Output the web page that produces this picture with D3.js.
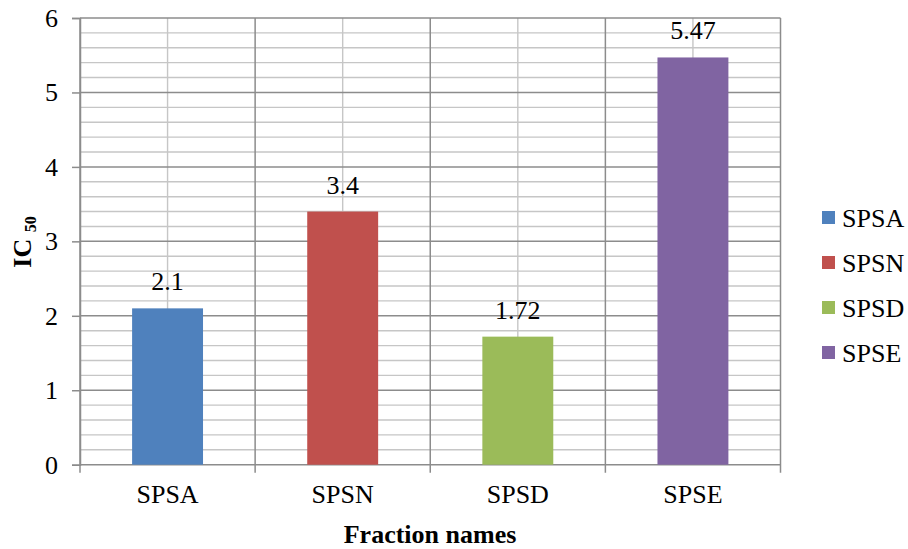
<!DOCTYPE html>
<html>
<head>
<meta charset="utf-8">
<script src="https://cdn.jsdelivr.net/npm/d3@7/dist/d3.min.js"></script>
<style>
  html, body { margin: 0; padding: 0; background: #fff; }
</style>
</head>
<body>
<svg id="chart" width="908" height="549"></svg>
<script>
// IC50 per fraction
const categories = ["SPSA", "SPSN", "SPSD", "SPSE"];
const values = [2.1, 3.4, 1.72, 5.47];
const valueLabels = ["2.1", "3.4", "1.72", "5.47"];
const colors = ["#4F81BD", "#C0504D", "#9BBB59", "#8064A2"];
const yTicks = [0, 1, 2, 3, 4, 5, 6];
const yMinorStep = 0.2;

const svg = d3.select("#chart");
const plot = { left: 80, right: 780.5, top: 18, bottom: 464.7 };

const x = d3.scaleBand().domain(categories).range([plot.left, plot.right]).padding(0);
const y = d3.scaleLinear().domain([0, 6]).range([plot.bottom, plot.top]);

const majorGrid = "#8c8c8c";
const minorGrid = "#c6c6c6";
const serif = "Liberation Serif";
const fontSize = "26px";

function serifText(sel, size, weight) {
  sel.style("font-family", serif)
     .style("font-size", size)
     .style("font-weight", weight || "normal")
     .style("fill", "#000");
}

// minor horizontal gridlines
const minorVals = d3.range(0, 6 + 1e-9, yMinorStep).filter(v => Math.abs(v - Math.round(v)) > 1e-6);
svg.append("g").selectAll("line").data(minorVals).join("line")
  .attr("x1", plot.left).attr("x2", plot.right)
  .attr("y1", d => y(d)).attr("y2", d => y(d))
  .attr("stroke", minorGrid).attr("stroke-width", 1.4);

// light vertical lines through category centres
svg.append("g").selectAll("line").data(categories).join("line")
  .attr("x1", d => x(d) + x.bandwidth() / 2).attr("x2", d => x(d) + x.bandwidth() / 2)
  .attr("y1", plot.top).attr("y2", plot.bottom)
  .attr("stroke", minorGrid).attr("stroke-width", 1.4);

// major horizontal gridlines
svg.append("g").selectAll("line").data(yTicks).join("line")
  .attr("x1", plot.left).attr("x2", plot.right)
  .attr("y1", d => y(d)).attr("y2", d => y(d))
  .attr("stroke", majorGrid).attr("stroke-width", 1.5);

// category boundary lines (extend below axis as tick marks)
const bounds = categories.map(c => x(c)).concat([x(categories[categories.length - 1]) + x.bandwidth()]);
svg.append("g").selectAll("line").data(bounds).join("line")
  .attr("x1", d => d).attr("x2", d => d)
  .attr("y1", plot.top).attr("y2", plot.bottom + 8)
  .attr("stroke", majorGrid).attr("stroke-width", 1.5);

// bars
const barW = x.bandwidth() * 0.405;
svg.append("g").selectAll("rect").data(categories).join("rect")
  .attr("x", (d) => x(d) + x.bandwidth() / 2 - barW / 2)
  .attr("width", barW)
  .attr("y", (d, i) => y(values[i]))
  .attr("height", (d, i) => y(0) - y(values[i]))
  .attr("fill", (d, i) => colors[i]);

// value labels
svg.append("g").selectAll("text").data(categories).join("text")
  .attr("x", d => x(d) + x.bandwidth() / 2)
  .attr("y", (d, i) => y(values[i]) - 18)
  .attr("text-anchor", "middle")
  .call(serifText, fontSize)
  .text((d, i) => valueLabels[i]);

// y axis
const yAxis = svg.append("g")
  .attr("transform", `translate(${plot.left},0)`)
  .call(d3.axisLeft(y).tickValues(yTicks).tickFormat(d3.format("d")).tickSize(8).tickPadding(14));
yAxis.attr("font-family", null).attr("font-size", null);
yAxis.select(".domain").attr("stroke", majorGrid).attr("stroke-width", 1.5);
yAxis.selectAll(".tick line").attr("stroke", majorGrid).attr("stroke-width", 1.5);
yAxis.selectAll(".tick text").call(serifText, fontSize);

// x axis labels
const xAxis = svg.append("g")
  .attr("transform", `translate(0,${plot.bottom})`)
  .call(d3.axisBottom(x).tickSize(0).tickPadding(20));
xAxis.attr("font-family", null).attr("font-size", null);
xAxis.select(".domain").remove();
xAxis.selectAll(".tick text").call(serifText, fontSize);

// axis titles
svg.append("text")
  .attr("x", 430).attr("y", 543)
  .attr("text-anchor", "middle")
  .call(serifText, "26px", "bold")
  .text("Fraction names");

const yTitle = svg.append("text")
  .attr("transform", "translate(31,242) rotate(-90)")
  .attr("text-anchor", "middle")
  .call(serifText, "26px", "bold");
yTitle.append("tspan").text("IC ");
yTitle.append("tspan").style("font-size", "16px").attr("dy", 5).text("50");

// legend
const legend = svg.append("g").selectAll("g").data(categories).join("g")
  .attr("transform", (d, i) => `translate(822,${218 + i * 45})`);
legend.append("rect")
  .attr("x", 0).attr("y", -7).attr("width", 13).attr("height", 13)
  .attr("fill", (d, i) => colors[i]);
legend.append("text")
  .attr("x", 20).attr("y", 0).attr("dy", "0.35em")
  .call(serifText, fontSize)
  .text(d => d);
</script>
</body>
</html>
